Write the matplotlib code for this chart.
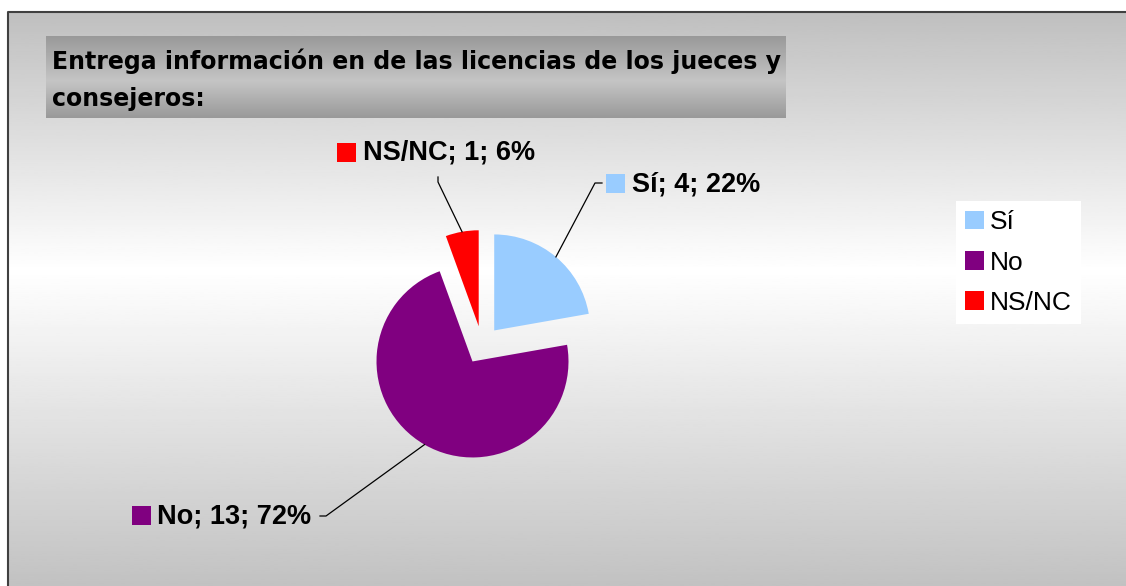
import numpy as np
import matplotlib.pyplot as plt
from matplotlib.patches import Rectangle

# data
labels = ['Sí', 'No', 'NS/NC']
counts = [4, 13, 1]
percents = [22, 72, 6]
colors = ['#99ccff', '#800080', '#ff0000']
title_lines = ['Entrega información en de las licencias de los jueces y', 'consejeros:']

W, H = 1126, 586
fig = plt.figure(figsize=(W / 100, H / 100), dpi=100)
ax = fig.add_axes([0, 0, 1, 1])

# chart area background: gray -> white -> gray
t = np.linspace(0, 1, 300)
bg = np.interp(t, [0, 0.45, 1], [0.75, 1.0, 0.76])
ax.imshow(bg[:, None], cmap='gray', vmin=0, vmax=1, extent=(8, W, 0, H - 12),
          aspect='auto', zorder=0)
ax.plot([8, 8, W], [0, H - 12, H - 12], color='#404040', lw=1.5, zorder=1)

# title box
tb = np.interp(t, [0, 0.55, 1], [0.6, 0.77, 0.6])
ax.imshow(tb[:, None], cmap='gray', vmin=0, vmax=1, extent=(46, 786, H - 118, H - 36),
          aspect='auto', zorder=1)
for i, line in enumerate(title_lines):
    ax.text(52, H - 61 - 38 * i, line, fontsize=17, fontweight='bold', family='DejaVu Sans',
            va='center', ha='left', zorder=2)

# pie
wedges, _ = ax.pie(counts, colors=colors, explode=[19, 19, 19], startangle=90,
                   counterclock=False, radius=96, center=(482, H - 345),
                   wedgeprops=dict(linewidth=0, zorder=3))

# data labels with leader lines
label_pos = [
    dict(sq=(606, 174), tx=632, ty=184, path=[(595, 183), (602, 183)]),
    dict(sq=(132, 506), tx=157, ty=516, path=[(326, 516), (320, 516)]),
    dict(sq=(337, 143), tx=363, ty=153, path=[(438, 182), (438, 177)]),
]
for w, lab, n, p, c, lp in zip(wedges, labels, counts, percents, colors, label_pos):
    th = np.deg2rad((w.theta1 + w.theta2) / 2)
    sx = w.center[0] + w.r * np.cos(th)
    sy = w.center[1] + w.r * np.sin(th)
    xs = [sx] + [q[0] for q in lp['path']]
    ys = [sy] + [H - q[1] for q in lp['path']]
    ax.plot(xs, ys, color='black', lw=0.9, zorder=4)
    ax.add_patch(Rectangle((lp['sq'][0], H - lp['sq'][1] - 19), 19, 19, facecolor=c,
                           edgecolor='none', zorder=4))
    ax.text(lp['tx'], H - lp['ty'], f'{lab}; {n}; {p}%', fontsize=19.5, fontweight='bold',
            family='Liberation Sans', va='center', ha='left', zorder=4)

leg = ax.legend(wedges, labels, loc='upper left', bbox_to_anchor=(956 / W, 1 - 201 / H),
                frameon=True, fancybox=False, edgecolor='none', facecolor='white', framealpha=1,
                prop={'family': 'Liberation Sans', 'size': 19}, handlelength=0.7,
                handleheight=0.7, handletextpad=0.25, labelspacing=0.62, borderpad=0.35,
                borderaxespad=0)

ax.set_xlim(0, W)
ax.set_ylim(0, H)
ax.axis('off')
fig.savefig('out.png', dpi=100, facecolor='white')
